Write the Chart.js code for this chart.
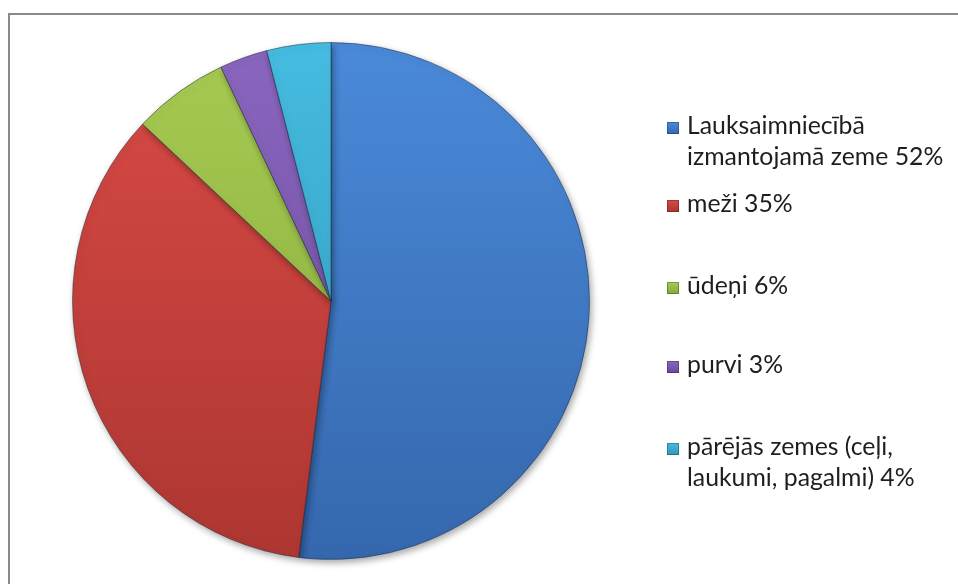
<!DOCTYPE html>
<html>
<head>
<meta charset="utf-8">
<script src="https://cdn.jsdelivr.net/npm/chart.js@4.4.1/dist/chart.umd.min.js"></script>
<style>
    html, body { margin: 0; padding: 0; background: #fff; }
    #wrap { position: relative; width: 958px; height: 584px; overflow: hidden; }
    #frame { position: absolute; left: 8px; top: 13px; width: 980px; height: 600px;
             border-left: 2px solid #8a8a8a; border-top: 2px solid #8a8a8a; }
    #landChart { position: absolute; left: 0; top: 0; }
</style>
</head>
<body>
<div id="wrap">
    <div id="frame"></div>
    <canvas id="landChart" width="958" height="584"></canvas>
</div>
<script>
// Land use shares (%)
const categories = ['Lauksaimniecībā izmantojamā zeme', 'meži', 'ūdeņi', 'purvi', 'pārējās zemes (ceļi, laukumi, pagalmi)'];
const shares = [52, 35, 6, 3, 4];
// legend text as shown, split into lines
const legendLines = [
    ['Lauksaimniecībā', 'izmantojamā zeme 52%'],
    ['meži 35%'],
    ['ūdeņi 6%'],
    ['purvi 3%'],
    ['pārējās zemes (ceļi,', 'laukumi, pagalmi) 4%']
];

// light / dark tone for each slice (top -> bottom)
const tones = [
    ['#4a8ad9', '#3567ad'],
    ['#d94a46', '#ad3631'],
    ['#a6cb52', '#86a83c'],
    ['#8a66bf', '#6a4a99'],
    ['#45bce0', '#2f97b8']
];

const fontFamily = "Lato, 'Open Sans', sans-serif";

function sliceFill(context) {
    const chart = context.chart;
    const area = chart.chartArea;
    if (!area) return tones[context.dataIndex][0];
    const g = chart.ctx.createLinearGradient(0, area.top, 0, area.bottom);
    g.addColorStop(0, tones[context.dataIndex][0]);
    g.addColorStop(1, tones[context.dataIndex][1]);
    return g;
}

// soft shadow under the pie
const pieShadow = {
    id: 'pieShadow',
    beforeDatasetsDraw(chart) {
        const ctx = chart.ctx;
        ctx.save();
        ctx.shadowColor = 'rgba(0,0,0,0.35)';
        ctx.shadowBlur = 7;
        ctx.shadowOffsetX = 2;
        ctx.shadowOffsetY = 3;
    },
    afterDatasetsDraw(chart) {
        chart.ctx.restore();
    }
};

// legend drawn on the right, Excel style
const sideLegend = {
    id: 'sideLegend',
    afterDraw(chart) {
        const ctx = chart.ctx;
        const boxX = 667, textX = 687, lineH = 31;
        const baselines = [134, 212, 294, 373, 455];
        // fit font so the widest line is about 256px
        ctx.save();
        ctx.font = '20px ' + fontFamily;
        const w = ctx.measureText('izmantojamā zeme 52%').width;
        const size = Math.round(20 * 256 / w * 10) / 10;
        ctx.font = size + 'px ' + fontFamily;
        ctx.textBaseline = 'alphabetic';
        ctx.textAlign = 'left';
        legendLines.forEach((lines, i) => {
            const y = baselines[i];
            const g = ctx.createLinearGradient(0, y - 12, 0, y);
            g.addColorStop(0, tones[i][0]);
            g.addColorStop(1, tones[i][1]);
            ctx.fillStyle = g;
            ctx.fillRect(boxX, y - 12, 12, 12);
            ctx.strokeStyle = 'rgba(0,0,0,0.25)';
            ctx.lineWidth = 1;
            ctx.strokeRect(boxX + 0.5, y - 11.5, 11, 11);
            ctx.fillStyle = '#1e1e1e';
            lines.forEach((t, j) => ctx.fillText(t, textX, y + j * lineH));
        });
        ctx.restore();
    }
};

new Chart(document.getElementById('landChart'), {
    type: 'pie',
    data: {
        labels: categories,
        datasets: [{
            data: shares,
            backgroundColor: sliceFill,
            borderColor: 'rgba(20,30,50,0.45)',
            borderWidth: 1
        }]
    },
    plugins: [pieShadow, sideLegend],
    options: {
        responsive: false,
        animation: false,
        layout: { padding: { left: 72, top: 42, bottom: 24, right: 368 } },
        plugins: {
            legend: { display: false },
            tooltip: { enabled: false }
        }
    }
});
</script>
</body>
</html>
